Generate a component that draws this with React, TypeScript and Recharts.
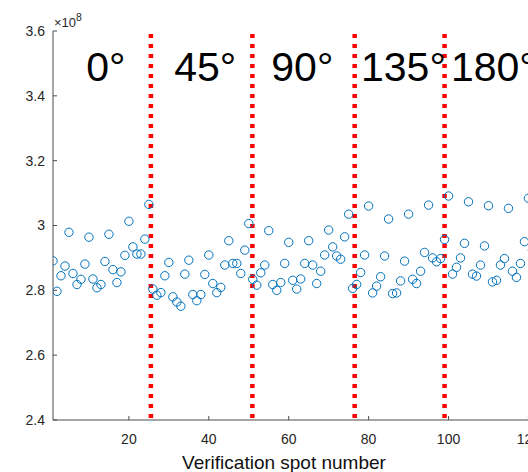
import React from 'react';
import {
  ScatterChart,
  Scatter,
  XAxis,
  YAxis,
  ReferenceLine,
  ReferenceDot,
} from 'recharts';

// Measured values for each rotation angle, in units of 1e8
const spots0 = [
  2.891, 2.797, 2.845, 2.875, 2.979, 2.852, 2.818, 2.834, 2.881, 2.964, 2.835,
  2.808, 2.818, 2.889, 2.973, 2.864, 2.824, 2.857, 2.908, 3.013, 2.934, 2.912,
  2.912, 2.958, 3.065,
];
const spots45 = [
  2.804, 2.785, 2.793, 2.845, 2.886, 2.78, 2.764, 2.751, 2.85, 2.893, 2.787,
  2.768, 2.787, 2.849, 2.909, 2.821, 2.793, 2.809, 2.878, 2.953, 2.883, 2.883,
  2.852, 2.924, 3.006,
];
const spots90 = [
  2.834, 2.816, 2.854, 2.878, 2.984, 2.818, 2.8, 2.824, 2.883, 2.948, 2.831,
  2.804, 2.835, 2.883, 2.953, 2.878, 2.821, 2.859, 2.909, 2.986, 2.934, 2.906,
  2.896, 2.965, 3.035, 2.806,
];
const spots135 = [
  2.818, 2.855, 2.909, 3.06, 2.792, 2.813, 2.842, 2.906, 3.02, 2.79, 2.792,
  2.829, 2.89, 3.035, 2.834, 2.821, 2.859, 2.917, 3.063, 2.9, 2.888, 2.898,
  2.957,
];
const spots180 = [
  3.091, 2.85, 2.871, 2.9, 2.945, 3.073, 2.85, 2.844, 2.878, 2.937, 3.061,
  2.826, 2.831, 2.878, 2.898, 3.053, 2.859, 2.84, 2.883, 2.95, 3.084, 2.924,
];

const angleLabels = ['0°', '45°', '90°', '135°', '180°'];
const angleLabelX = [14.2, 39.1, 63.4, 88.7, 111.2];
const groupBoundaries = [25.5, 50.9, 76.5, 99];

const xTicks = [20, 40, 60, 80, 100, 120];
const yTicks = [2.4, 2.6, 2.8, 3.0, 3.2, 3.4, 3.6];

const points = [spots0, spots45, spots90, spots135, spots180]
  .flat()
  .map((y, i) => ({ x: i + 1, y }));

const FONT = '"Liberation Sans", Arial, Helvetica, sans-serif';
const AXIS_COLOR = '#4d4d4d';
const TEXT_COLOR = '#262626';

const App: React.FC = () => {
  return (
    <div
      style={{
        position: 'absolute',
        left: 0,
        top: 0,
        width: 528,
        height: 472,
        overflow: 'hidden',
        background: '#fff',
        fontFamily: FONT,
      }}
    >
      <ScatterChart
        width={574}
        height={472}
        margin={{ top: 31, right: 5.6, bottom: 0, left: 0 }}
        style={{ fontFamily: FONT }}
      >
        <XAxis
          type="number"
          dataKey="x"
          domain={[1, 130]}
          ticks={xTicks}
          allowDataOverflow
          height={52}
          stroke={AXIS_COLOR}
          tickSize={-4}
          tickMargin={18}
          tick={{ fill: TEXT_COLOR, fontSize: 14 }}
          label={(p: any) => (
            <text
              x={p.viewBox.x + 231}
              y={p.viewBox.y + 49}
              textAnchor="middle"
              fontSize={19}
              fill="#111"
              fontFamily={FONT}
            >
              Verification spot number
            </text>
          )}
        />
        {/* top edge of the box, ticks only */}
        <XAxis
          xAxisId="top"
          orientation="top"
          type="number"
          domain={[1, 130]}
          ticks={xTicks}
          allowDataOverflow
          height={0}
          stroke={AXIS_COLOR}
          tickSize={-4}
          tick={() => <g />}
        />
        <YAxis
          type="number"
          dataKey="y"
          domain={[2.4, 3.6]}
          ticks={yTicks}
          allowDataOverflow
          width={53}
          stroke={AXIS_COLOR}
          tickSize={-4}
          tickMargin={12}
          tick={{ fill: TEXT_COLOR, fontSize: 14 }}
          tickFormatter={(v: number) => String(Number(v.toFixed(1)))}
          label={(p: any) => (
            <text
              x={p.viewBox.x + p.viewBox.width + 1}
              y={p.viewBox.y - 4}
              fontSize={13}
              fill={TEXT_COLOR}
              fontFamily={FONT}
            >
              ×10
              <tspan dy={-6} fontSize={10.5}>
                8
              </tspan>
            </text>
          )}
        />
        <Scatter
          data={points}
          isAnimationActive={false}
          shape={(p: any) => (
            <circle
              cx={p.cx}
              cy={p.cy}
              r={4.2}
              fill="none"
              stroke="#0072BD"
              strokeWidth={1}
            />
          )}
        />
        {groupBoundaries.map((b) => (
          <ReferenceLine
            key={b}
            x={b}
            stroke="#FF0000"
            strokeWidth={4.5}
            strokeDasharray="4 6"
            strokeDashoffset={8}
          />
        ))}
        {angleLabels.map((label, i) => (
          <ReferenceDot
            key={label}
            x={angleLabelX[i]}
            y={3.447}
            r={0}
            ifOverflow="visible"
            shape={(p: any) => (
              <text
                x={p.cx}
                y={p.cy}
                textAnchor="middle"
                fontSize={41}
                fill="#000"
                fontFamily={FONT}
              >
                {label}
              </text>
            )}
          />
        ))}
      </ScatterChart>
    </div>
  );
};

export default App;
